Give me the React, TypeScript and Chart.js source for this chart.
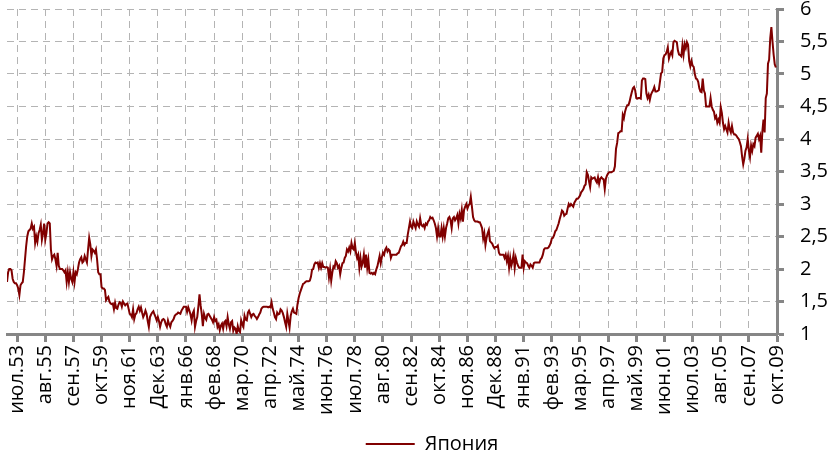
import React, { useEffect, useRef } from 'react';
import { Chart, registerables } from 'chart.js';

Chart.register(...registerables);

// Monthly series, October 1952 .. September 2009
const seriesName = 'Япония';

const xTickLabels = [
  'июл.53', 'авг.55', 'сен.57', 'окт.59', 'ноя.61', 'Дек.63', 'янв.66', 'фев.68',
  'мар.70', 'апр.72', 'май.74', 'июн.76', 'июл.78', 'авг.80', 'сен.82', 'окт.84',
  'ноя.86', 'Дек.88', 'янв.91', 'фев.93', 'мар.95', 'апр.97', 'май.99', 'июн.01',
  'июл.03', 'авг.05', 'сен.07', 'окт.09',
];

const yTickLabels = ['1', '1,5', '2', '2,5', '3', '3,5', '4', '4,5', '5', '5,5', '6'];

// month index of the first labelled month (июл.53) and label interval in months
const firstLabelMonth = 9;
const labelEveryMonths = 25;

const japan = [
  1.8, 1.95, 2.0, 2.0, 1.98, 1.85, 1.8, 1.78, 1.78, 1.75,
  1.7, 1.6, 1.75, 1.78, 1.8, 1.95, 2.15, 2.35, 2.5, 2.58,
  2.6, 2.62, 2.7, 2.62, 2.65, 2.4, 2.5, 2.42, 2.55, 2.6,
  2.68, 2.45, 2.55, 2.7, 2.45, 2.55, 2.7, 2.72, 2.7, 2.3,
  2.15, 2.2, 2.22, 2.15, 2.05, 2.25, 2.05, 2.0, 2.0, 2.0,
  1.98, 1.95, 1.98, 1.8, 1.95, 1.8, 1.95, 1.85, 1.8, 1.95,
  1.8, 1.95, 1.92, 2.0, 2.1, 2.15, 2.18, 2.1, 2.12, 2.2,
  2.15, 2.1, 2.3, 2.48, 2.38, 2.2, 2.3, 2.28, 2.25, 2.3,
  2.15, 1.95, 1.92, 1.92, 1.72, 1.7, 1.7, 1.68, 1.52, 1.55,
  1.57, 1.5, 1.47, 1.46, 1.47, 1.38, 1.48, 1.4, 1.39, 1.45,
  1.49, 1.48, 1.42, 1.5, 1.47, 1.44, 1.46, 1.47, 1.39, 1.31,
  1.3, 1.26, 1.38, 1.23, 1.3, 1.32, 1.38, 1.42, 1.36, 1.41,
  1.33, 1.26, 1.3, 1.36, 1.31, 1.2, 1.11, 1.26, 1.3, 1.33,
  1.35, 1.3, 1.26, 1.21, 1.26, 1.2, 1.11, 1.18, 1.22, 1.23,
  1.21, 1.15, 1.11, 1.21, 1.15, 1.11, 1.18, 1.2, 1.23, 1.28,
  1.3, 1.31, 1.33, 1.32, 1.31, 1.36, 1.39, 1.42, 1.42, 1.42,
  1.34, 1.41, 1.36, 1.3, 1.21, 1.32, 1.36, 1.11, 1.2, 1.26,
  1.42, 1.61, 1.44, 1.31, 1.12, 1.31, 1.25, 1.22, 1.3, 1.31,
  1.28, 1.25, 1.22, 1.18, 1.26, 1.2, 1.22, 1.11, 1.15, 1.06,
  1.13, 1.16, 1.08, 1.18, 1.2, 1.12, 1.26, 1.15, 1.08, 1.18,
  1.2, 1.05, 1.1, 1.08, 1.0, 1.12, 1.05, 1.03, 1.21, 1.15,
  1.11, 1.28, 1.22, 1.21, 1.33, 1.36, 1.31, 1.26, 1.3, 1.31,
  1.28, 1.26, 1.23, 1.26, 1.3, 1.33, 1.39, 1.41, 1.42, 1.42,
  1.42, 1.42, 1.41, 1.42, 1.41, 1.49, 1.39, 1.33, 1.26, 1.23,
  1.33, 1.3, 1.31, 1.38, 1.36, 1.32, 1.26, 1.18, 1.11, 1.31,
  1.2, 1.1, 1.28, 1.35, 1.39, 1.33, 1.32, 1.31, 1.45, 1.55,
  1.62, 1.67, 1.72, 1.77, 1.78, 1.8, 1.81, 1.81, 1.81, 1.82,
  1.88, 1.99, 2.0, 2.07, 2.1, 2.09, 2.1, 2.02, 2.09, 2.02,
  2.09, 2.03, 2.03, 2.02, 2.03, 2.02, 1.87, 2.0, 1.82, 1.95,
  2.04, 2.02, 2.12, 2.09, 2.02, 2.05, 1.92, 2.02, 2.09, 2.1,
  2.17, 2.2, 2.3, 2.27, 2.33, 2.27, 2.4, 2.32, 2.3, 2.4,
  2.25, 2.17, 2.22, 2.02, 2.17, 2.04, 2.1, 2.22, 2.02, 2.22,
  2.02, 2.14, 1.94, 1.93, 1.94, 1.92, 1.94, 1.92, 1.99, 2.04,
  2.12, 2.2, 2.09, 2.18, 2.25, 2.22, 2.3, 2.33, 2.27, 2.3,
  2.28, 2.17, 2.22, 2.22, 2.22, 2.22, 2.22, 2.24, 2.25, 2.3,
  2.35, 2.37, 2.42, 2.37, 2.4, 2.4, 2.53, 2.63, 2.73, 2.65,
  2.63, 2.73, 2.68, 2.63, 2.73, 2.68, 2.65, 2.78, 2.68, 2.66,
  2.68, 2.63, 2.7, 2.68, 2.73, 2.75, 2.8, 2.78, 2.79, 2.75,
  2.7, 2.63, 2.5, 2.63, 2.5, 2.5, 2.63, 2.5, 2.63, 2.5,
  2.63, 2.7, 2.78, 2.8, 2.75, 2.63, 2.78, 2.8, 2.75, 2.78,
  2.83, 2.7, 2.85, 2.78, 2.91, 2.73, 2.91, 2.96, 3.0, 2.93,
  2.98, 3.0, 3.11, 2.96, 2.8, 2.75, 2.73, 2.73, 2.73, 2.72,
  2.72, 2.68, 2.63, 2.47, 2.55, 2.37, 2.48, 2.55, 2.6, 2.43,
  2.41, 2.39, 2.35, 2.32, 2.34, 2.34, 2.36, 2.25, 2.22, 2.22,
  2.22, 2.22, 2.17, 2.22, 2.12, 2.2, 2.02, 2.17, 2.05, 2.12,
  2.22, 2.02, 2.17, 2.1, 2.05, 2.02, 2.02, 2.02, 2.22, 2.02,
  2.12, 2.1, 2.09, 2.05, 2.02, 2.07, 2.05, 2.02, 2.09, 2.1,
  2.1, 2.1, 2.1, 2.1, 2.15, 2.17, 2.22, 2.3, 2.32, 2.32,
  2.32, 2.33, 2.36, 2.4, 2.47, 2.48, 2.52, 2.58, 2.6, 2.65,
  2.7, 2.77, 2.83, 2.9, 2.88, 2.82, 2.84, 2.85, 2.93, 3.0,
  2.97, 3.0, 2.98, 2.96, 3.02, 3.05, 3.08, 3.08, 3.1, 3.13,
  3.18, 3.2, 3.23, 3.28, 3.3, 3.49, 3.45, 3.35, 3.26, 3.41,
  3.39, 3.4, 3.41, 3.36, 3.33, 3.41, 3.31, 3.39, 3.41, 3.39,
  3.38, 3.23, 3.39, 3.44, 3.47, 3.49, 3.49, 3.49, 3.5, 3.51,
  3.58, 3.85, 3.94, 4.09, 4.1, 4.12, 4.12, 4.37, 4.32, 4.42,
  4.48, 4.52, 4.52, 4.57, 4.65, 4.72, 4.78, 4.8, 4.75, 4.63,
  4.62, 4.63, 4.63, 4.62, 4.9, 4.93, 4.93, 4.92, 4.7, 4.63,
  4.68, 4.6, 4.68, 4.72, 4.75, 4.8, 4.73, 4.73, 4.74, 4.75,
  4.88, 5.01, 5.03, 5.24, 5.29, 5.3, 5.34, 5.41, 5.24, 5.3,
  5.34, 5.29, 5.49, 5.51, 5.5, 5.49, 5.36, 5.3, 5.29, 5.27,
  5.44, 5.3, 5.46, 5.4, 5.49, 5.45, 5.2, 5.12, 5.2, 5.13,
  5.11, 5.0, 4.93, 4.92, 4.88, 4.78, 4.73, 4.72, 4.93, 4.75,
  4.7, 4.5, 4.5, 4.5, 4.5, 4.63, 4.5, 4.45, 4.42, 4.32,
  4.35, 4.25, 4.3, 4.25, 4.49, 4.4, 4.25, 4.15, 4.2, 4.15,
  4.1, 4.25, 4.15, 4.1, 4.2, 4.1, 4.07, 4.07, 4.05, 4.02,
  4.0, 3.95, 3.89, 3.73, 3.61, 3.7, 3.82, 3.87, 4.0, 3.82,
  3.72, 3.9, 3.82, 3.92, 3.89, 4.02, 4.05, 4.08, 4.0, 4.05,
  3.79, 4.12, 4.3, 4.1, 4.63, 4.7, 5.16, 5.22, 5.55, 5.72,
  5.5, 5.3, 5.15, 5.1,
];

const legendShift = {
  id: 'legendShift',
  afterLayout(chart: any) {
    const lg = chart.legend;
    if (lg) {
      lg.left += 15;
      lg.right += 15;
    }
  },
};

export default function App() {
  const ref = useRef<HTMLCanvasElement>(null);

  useEffect(() => {
    if (!ref.current) return;
    const font = { family: '"Open Sans", "Noto Sans", sans-serif', size: 20 };
    const axisGray = '#868686';
    const gridGray = '#b4b4b4';

    const chart = new Chart(ref.current, {
      type: 'line',
      data: {
        datasets: [
          {
            label: seriesName,
            data: japan.map((y, i) => ({ x: i, y })),
            borderColor: '#800000',
            backgroundColor: '#800000',
            borderWidth: 2,
            pointRadius: 0,
            fill: false,
            tension: 0,
          },
        ],
      },
      options: {
        responsive: false,
        animation: false,
        layout: { padding: { top: 9, left: 7, right: 0, bottom: 0 } },
        plugins: {
          legend: {
            position: 'bottom',
            labels: {
              font,
              color: '#000',
              boxWidth: 49,
              boxHeight: 2,
              padding: 8,
              generateLabels: (c: any) =>
                Chart.defaults.plugins.legend.labels
                  .generateLabels(c)
                  .map((it: any) => ({ ...it, lineWidth: 0, fillStyle: '#800000' })),
            },
          },
          tooltip: { enabled: false },
        },
        scales: {
          x: {
            type: 'linear',
            bounds: 'data',
            min: 0,
            max: japan.length,
            afterBuildTicks: (s: any) => {
              s.ticks = xTickLabels.map((_, k) => ({ value: firstLabelMonth + k * labelEveryMonths }));
            },
            ticks: {
              autoSkip: false,
              maxRotation: 90,
              minRotation: 90,
              padding: 3,
              color: '#000',
              font,
              callback: (_v: any, idx: number) => xTickLabels[idx],
            },
            grid: {
              color: gridGray,
              lineWidth: 1,
              drawTicks: true,
              tickLength: 8,
              tickColor: axisGray,
              tickWidth: 3,
            },
            border: { display: true, color: axisGray, width: 3, dash: [7, 5] },
            afterFit: (s: any) => {
              s.height = 92;
              s.paddingLeft = 0;
              s.paddingRight = 0;
            },
          },
          y: {
            position: 'right',
            min: 1,
            max: 6,
            ticks: {
              stepSize: 0.5,
              padding: 16,
              color: '#000',
              font,
              callback: (_v: any, idx: number) => yTickLabels[idx],
            },
            grid: {
              color: gridGray,
              lineWidth: 1,
              drawTicks: true,
              tickLength: 7,
              tickColor: axisGray,
              tickWidth: 3,
            },
            border: { display: true, color: axisGray, width: 3, dash: [7, 5] },
            afterFit: (s: any) => {
              s.width = 50;
              s.paddingTop = 0;
              s.paddingBottom = 0;
            },
          },
        },
      },
      plugins: [legendShift],
    } as any);

    return () => chart.destroy();
  }, []);

  return (
    <div style={{ position: 'fixed', left: 0, top: 0, width: 827, height: 464, background: '#fff' }}>
      <canvas ref={ref} width={827} height={464} />
    </div>
  );
}
